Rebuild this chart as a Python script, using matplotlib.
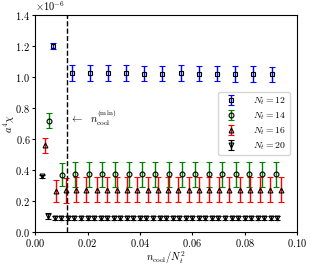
import numpy as np
import matplotlib
matplotlib.use("Agg")
import matplotlib.pyplot as plt

plt.rcParams['font.family'] = 'serif'
plt.rcParams['font.serif'] = ['cmr10', 'DejaVu Serif']
plt.rcParams['mathtext.fontset'] = 'cm'
plt.rcParams['axes.formatter.use_mathtext'] = True
plt.rcParams['font.size'] = 7.5
plt.rcParams['xtick.major.size'] = 2
plt.rcParams['ytick.major.size'] = 2
plt.rcParams['xtick.major.pad'] = 1.5
plt.rcParams['ytick.major.pad'] = 1.5

# chi values (units 1e-6) vs n_cool/Nt^2, n_cool = 1, 2, 3, ...
nt12_y = [1.20, 1.025, 1.028, 1.025, 1.025, 1.022, 1.022, 1.025, 1.022, 1.022, 1.020, 1.020, 1.018]
nt12_err = [0.02, 0.05, 0.05, 0.05, 0.05, 0.05, 0.05, 0.05, 0.05, 0.05, 0.05, 0.05, 0.05]

nt14_y = [0.72, 0.37, 0.372, 0.372, 0.372, 0.372, 0.372, 0.372, 0.372, 0.372,
          0.372, 0.372, 0.372, 0.372, 0.372, 0.372, 0.372, 0.372]
nt14_err = [0.05, 0.075] + [0.08] * 16

nt16_y = [0.56, 0.265, 0.27, 0.275, 0.275, 0.275, 0.275, 0.275, 0.275, 0.275, 0.275, 0.275,
          0.275, 0.275, 0.275, 0.275, 0.275, 0.275, 0.275, 0.275, 0.275, 0.275, 0.275, 0.275]
nt16_err = [0.05, 0.07] + [0.08] * 22

nt20_y = [0.36, 0.105] + [0.092] * 35
nt20_err = [0.01, 0.02] + [0.015] * 35

n_cool_min = 0.012

series = [
    (12, nt12_y, nt12_err, 's', 'blue'),
    (14, nt14_y, nt14_err, 'o', 'green'),
    (16, nt16_y, nt16_err, '^', 'red'),
    (20, nt20_y, nt20_err, 'v', 'black'),
]

fig = plt.figure(figsize=(3.11, 2.65), dpi=100)
ax = fig.add_axes([0.113, 0.124, 0.842, 0.819])

for nt, y, err, mk, col in series:
    k = np.arange(1, len(y) + 1)
    x = k / nt**2
    ax.errorbar(x, np.array(y) * 1e-6, yerr=np.array(err) * 1e-6, fmt=mk,
                color=col, ecolor=col, mfc='none', mec='black', ms=3.5,
                mew=0.8, elinewidth=1.0, capsize=2, capthick=1.0,
                label=r'$N_t = %d$' % nt)

ax.axvline(n_cool_min, color='black', ls='--', lw=1)
ax.text(0.0134, 0.735e-6, r'$\leftarrow\ \ n_{\rm cool}^{(\rm min)}$', fontsize=7.5, va='center')

ax.set_xlim(0, 0.1)
ax.set_ylim(0, 1.4e-6)
ax.set_xticks([0, 0.02, 0.04, 0.06, 0.08, 0.10])
ax.set_xlabel(r'$n_{\rm cool}/N_t^2$', labelpad=0)
ax.set_ylabel(r'$a^4\chi$')
ax.yaxis.set_label_coords(-0.07, 0.5)
ax.legend(loc='center right', fontsize=7, labelspacing=0.35, borderpad=0.35,
          handletextpad=1.2, bbox_to_anchor=(0.99, 0.5))

fig.savefig('out.png', dpi=100)
